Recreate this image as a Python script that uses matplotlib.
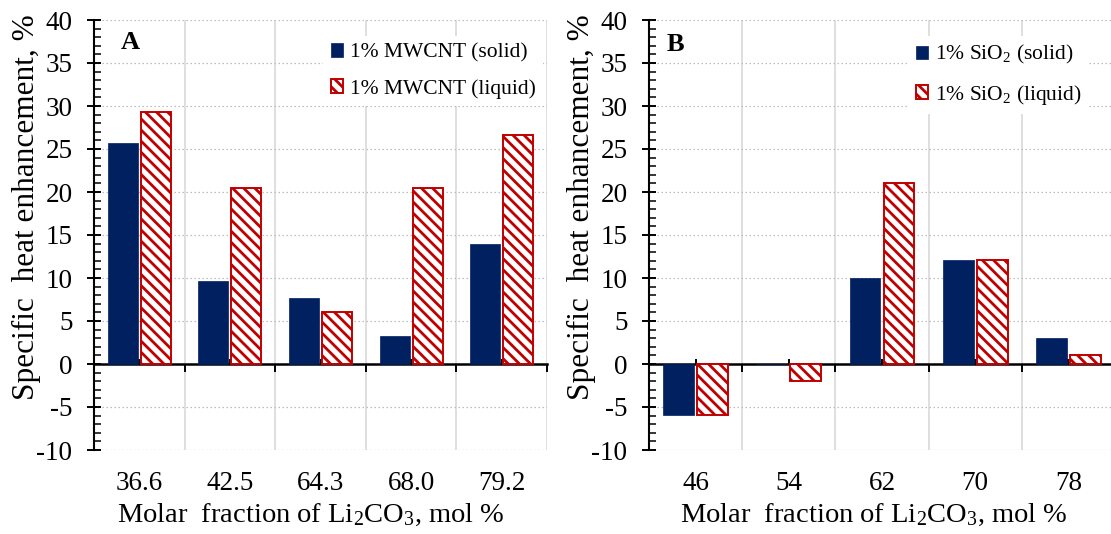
import matplotlib
matplotlib.use("Agg")
import matplotlib.pyplot as plt
from matplotlib.ticker import MultipleLocator, FixedLocator, NullFormatter
import numpy as np

# ---- data -------------------------------------------------------------
cats_a = ["36.6", "42.5", "64.3", "68.0", "79.2"]
mwcnt_solid = [25.7, 9.7, 7.7, 3.3, 13.9]
mwcnt_liquid = [29.3, 20.5, 6.0, 20.5, 26.6]

cats_b = ["46", "54", "62", "70", "78"]
sio2_solid = [-5.9, 0.0, 10.0, 12.1, 3.0]
sio2_liquid = [-5.9, -2.0, 21.0, 12.1, 1.1]

labels_a = ["1% MWCNT (solid)", "1% MWCNT (liquid)"]
labels_b = ["1% SiO$_2$ (solid)", "1% SiO$_2$ (liquid)"]

# ---- style ------------------------------------------------------------
plt.rcParams["font.family"] = ["Liberation Serif", "DejaVu Serif"]
plt.rcParams["mathtext.fontset"] = "custom"
plt.rcParams["mathtext.rm"] = "Liberation Serif"
plt.rcParams["mathtext.default"] = "regular"
plt.rcParams["axes.unicode_minus"] = False
plt.rcParams["hatch.linewidth"] = 2.0

NAVY = "#002060"
RED = "#C00000"
W, H = 1111, 534

fig = plt.figure(figsize=(W / 100, H / 100), dpi=100)


def px_axes(left, right, top, bottom):
    return fig.add_axes([left / W, 1 - bottom / H, (right - left) / W, (bottom - top) / H])


def draw_panel(ax, cats, solid, liquid, labels, letter, letter_pos, leg_anchor, ylab_x, xlab_x):
    x = np.arange(len(cats))
    width = 0.33
    off = 0.182
    ax.bar(x - off, solid, width, color=NAVY, edgecolor=NAVY, linewidth=0.5,
           label=labels[0], zorder=3)
    ax.bar(x + off, liquid, width, facecolor="white", edgecolor=RED, hatch="\\\\\\",
           linewidth=1.4, label=labels[1], zorder=3)

    ax.set_xlim(-0.5, len(cats) - 0.5)
    ax.set_ylim(-10, 40)

    # y axis
    ax.yaxis.set_major_locator(MultipleLocator(5))
    ax.yaxis.set_minor_locator(MultipleLocator(1))
    ax.tick_params(axis="y", which="major", direction="inout", length=10, width=1.4,
                   labelsize=19.5, pad=10.5)
    ax.tick_params(axis="y", which="minor", direction="in", length=5, width=1.1)

    # x axis drawn through zero; category boundaries as minor ticks
    ax.spines["bottom"].set_position(("data", 0))
    ax.spines["bottom"].set_linewidth(1.8)
    ax.spines["left"].set_linewidth(1.5)
    ax.spines["top"].set_visible(False)
    ax.spines["right"].set_visible(False)
    ax.set_xticks(x)
    ax.set_xticklabels(cats)
    ax.xaxis.set_minor_locator(FixedLocator(list(x + 0.5)))
    ax.xaxis.set_minor_formatter(NullFormatter())
    ax.tick_params(axis="x", which="major", direction="in", length=3.6, width=1.4,
                   labelsize=19.5, pad=77)
    ax.tick_params(axis="x", which="minor", direction="out", length=5.4, width=1.4)

    # grid
    ax.grid(which="major", axis="y", color="#BDBDBD", linestyle=(0, (1.2, 2.0)), linewidth=0.9, zorder=0)
    ax.grid(which="minor", axis="x", color="#D9D9D9", linestyle="-", linewidth=1.2, zorder=0)
    ax.set_axisbelow(True)

    ax.set_xlabel("Molar  fraction of Li$_2$CO$_3$, mol %", fontsize=20.5)
    ax.xaxis.set_label_coords(xlab_x, -0.121)
    ax.set_ylabel("Specific  heat enhancement, %", fontsize=22.5)
    ax.yaxis.set_label_coords(ylab_x, 0.565)

    ax.text(letter_pos[0], letter_pos[1], letter, transform=ax.transAxes, ha="left", va="top",
            fontsize=19, fontweight="bold")

    leg = ax.legend(loc="upper left", bbox_to_anchor=leg_anchor, borderaxespad=0, borderpad=0.35,
                    handlelength=0.6, handleheight=0.6, handletextpad=0.3, labelspacing=0.75,
                    fontsize=15.5, frameon=True, fancybox=False, framealpha=1,
                    facecolor="white", edgecolor="none")
    leg.set_zorder(5)


ax_a = px_axes(94, 547, 20, 450)
draw_panel(ax_a, cats_a, mwcnt_solid, mwcnt_liquid, labels_a, "A",
           (0.0596, 0.975), (0.5055, 0.963), -0.118, 0.478)

ax_b = px_axes(649, 1115, 20, 450)
draw_panel(ax_b, cats_b, sio2_solid, sio2_liquid, labels_b, "B",
           (0.0386, 0.970), (0.5558, 0.963), -0.114, 0.482)

fig.savefig("out.png", dpi=100)
